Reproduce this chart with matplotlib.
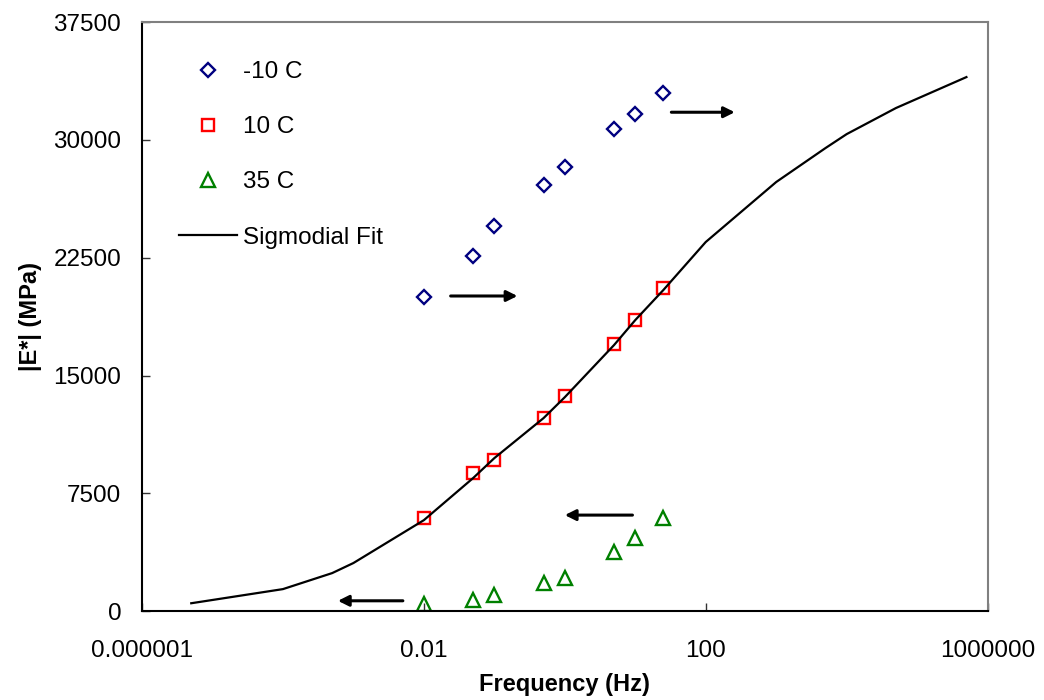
import numpy as np
import matplotlib
matplotlib.use("Agg")
import matplotlib.pyplot as plt

# test frequencies (Hz) and measured |E*| (MPa)
freq = [0.01, 0.05, 0.1, 0.5, 1, 5, 10, 25]
e_m10 = [19970, 22620, 24530, 27100, 28250, 30670, 31660, 32960]
e_10 = [5900, 8810, 9590, 12290, 13670, 16980, 18510, 20570]
e_35 = [450, 700, 1020, 1760, 2120, 3780, 4670, 5940]

# sigmoidal master curve
fit_freq = [5e-6, 1e-4, 5e-4, 1e-3, 0.01, 0.05, 0.1, 0.5, 1, 5, 10, 25,
            100, 1000, 5000, 10000, 50000, 500000]
fit_e = [500, 1400, 2420, 3060, 5790, 8470, 9740, 12290, 13620, 16940,
         18530, 20440, 23500, 27320, 29480, 30370, 32030, 34000]

xticks = [1e-6, 1e-2, 1e2, 1e6]
xtick_labels = ["0.000001", "0.01", "100", "1000000"]
yticks = [0, 7500, 15000, 22500, 30000, 37500]

plt.rcParams['font.family'] = ['Liberation Sans', 'DejaVu Sans']

fig = plt.figure(figsize=(10.44, 7), dpi=100)
ax = fig.add_axes([0.136, 0.127, 0.810, 0.8414])

ax.plot(freq, e_m10, 'D', ms=7.5, mfc='none', mec='#000080', mew=1.7, ls='none', label='-10 C')
ax.plot(freq, e_10, 's', ms=8, mfc='none', mec='#ff0000', mew=1.7, ls='none', label='10 C')
ax.plot(freq, e_35, '^', ms=10, mfc='none', mec='#008000', mew=1.7, ls='none', label='35 C')
ax.plot(fit_freq, fit_e, color='k', lw=1.6, label='Sigmodial Fit')

# shift direction arrows
arrows = [((0.365, 0.535), (0.444, 0.535)),
          ((0.626, 0.847), (0.701, 0.847)),
          ((0.580, 0.163), (0.500, 0.163)),
          ((0.3085, 0.0175), (0.2317, 0.0175))]
for start, end in arrows:
    ax.annotate('', xy=end, xytext=start, xycoords='axes fraction',
                arrowprops=dict(arrowstyle='-|>', lw=2.2, color='k',
                                mutation_scale=16, shrinkA=0, shrinkB=0))

ax.set_xscale('log')
ax.set_xlim(1e-6, 1e6)
ax.set_ylim(0, 37500)
ax.set_xticks(xticks)
ax.set_xticklabels(xtick_labels)
ax.xaxis.set_minor_locator(matplotlib.ticker.NullLocator())
ax.set_yticks(yticks)
ax.set_yticklabels([str(v) for v in yticks])

ax.tick_params(axis='both', direction='in', length=6, width=1, labelsize=17.5, color='#333333')
ax.tick_params(axis='x', pad=21)
ax.tick_params(axis='y', pad=15)

for s in ['left', 'bottom']:
    ax.spines[s].set_linewidth(1.5)
    ax.spines[s].set_color('k')
for s in ['top', 'right']:
    ax.spines[s].set_linewidth(1.5)
    ax.spines[s].set_color('#808080')

ax.set_xlabel('Frequency (Hz)', fontsize=17, fontweight='bold')
ax.set_ylabel('|E*| (MPa)', fontsize=17, fontweight='bold')
ax.xaxis.set_label_coords(0.5, -0.105)
ax.yaxis.set_label_coords(-0.118, 0.5)

ax.legend(loc='upper left', bbox_to_anchor=(0.032, 0.95), frameon=False,
          fontsize=17.5, handlelength=2.4, handletextpad=0.25, labelspacing=1.36,
          borderaxespad=0)

fig.savefig('out.png', dpi=100)
